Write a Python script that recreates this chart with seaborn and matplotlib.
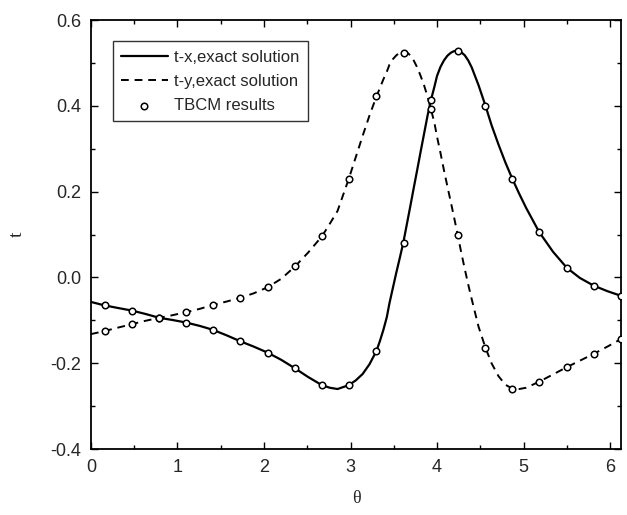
import matplotlib
matplotlib.use("Agg")
import matplotlib.pyplot as plt
from matplotlib.ticker import MultipleLocator
import seaborn as sns
import pandas as pd

# exact solution curves
theta_line = [0.0, 0.157, 0.31, 0.47, 0.63, 0.79, 0.94, 1.10, 1.26, 1.41, 1.57,
              1.73, 1.88, 2.04, 2.20, 2.36, 2.51, 2.67, 2.76, 2.85, 2.98, 3.06,
              3.14, 3.22, 3.30, 3.34, 3.38, 3.42, 3.45, 3.49, 3.53, 3.57, 3.61,
              3.65, 3.69, 3.73, 3.77, 3.81, 3.85, 3.89, 3.93, 3.97, 4.00, 4.04,
              4.08, 4.12, 4.16, 4.20, 4.24, 4.28, 4.32, 4.36, 4.40, 4.48, 4.56,
              4.63, 4.71, 4.79, 4.87, 4.95, 5.03, 5.18, 5.34, 5.50, 5.65, 5.81,
              5.97, 6.13]
tx_line = [-0.057, -0.065, -0.071, -0.077, -0.085, -0.094, -0.099, -0.105, -0.113,
           -0.122, -0.135, -0.149, -0.161, -0.175, -0.192, -0.212, -0.232, -0.251,
           -0.257, -0.260, -0.251, -0.240, -0.225, -0.202, -0.171, -0.148, -0.122,
           -0.092, -0.060, -0.024, 0.012, 0.046, 0.081, 0.123, 0.165, 0.208, 0.250,
           0.293, 0.335, 0.377, 0.414, 0.445, 0.470, 0.491, 0.506, 0.517, 0.524,
           0.528, 0.528, 0.525, 0.518, 0.506, 0.490, 0.448, 0.400, 0.355, 0.310,
           0.268, 0.230, 0.195, 0.162, 0.106, 0.060, 0.0225, -0.001, -0.019, -0.032,
           -0.043]
ty_line = [-0.132, -0.125, -0.117, -0.109, -0.101, -0.094, -0.088, -0.081, -0.073,
           -0.064, -0.056, -0.047, -0.037, -0.023, -0.003, 0.026, 0.058, 0.096,
           0.125, 0.155, 0.230, 0.280, 0.330, 0.378, 0.422, 0.442, 0.462, 0.480,
           0.496, 0.509, 0.518, 0.524, 0.526, 0.525, 0.518, 0.506, 0.490, 0.470,
           0.448, 0.422, 0.392, 0.360, 0.328, 0.290, 0.250, 0.212, 0.175, 0.137,
           0.098, 0.058, 0.020, -0.016, -0.050, -0.115, -0.164, -0.200, -0.230,
           -0.250, -0.259, -0.260, -0.257, -0.243, -0.226, -0.209, -0.194, -0.178,
           -0.161, -0.143]

# TBCM results
theta_pts = [0.157, 0.471, 0.785, 1.100, 1.414, 1.728, 2.042, 2.356, 2.670, 2.985,
             3.299, 3.613, 3.927, 4.241, 4.555, 4.869, 5.184, 5.498, 5.812, 6.126]
tx_pts = [-0.065, -0.077, -0.094, -0.105, -0.122, -0.149, -0.175, -0.212, -0.251,
          -0.251, -0.171, 0.081, 0.414, 0.528, 0.400, 0.230, 0.106, 0.0225, -0.019,
          -0.043]
ty_pts = [-0.125, -0.109, -0.094, -0.081, -0.064, -0.047, -0.023, 0.026, 0.096,
          0.230, 0.422, 0.524, 0.392, 0.098, -0.164, -0.259, -0.243, -0.209, -0.178,
          -0.143]

sns.set_style("ticks")
plt.rcParams["font.family"] = ["Liberation Sans", "DejaVu Sans"]

curves = pd.DataFrame({"theta": theta_line, "tx": tx_line, "ty": ty_line})
pts = pd.DataFrame({"theta": theta_pts * 2, "t": tx_pts + ty_pts})

fig = plt.figure(figsize=(6.27, 5.15), dpi=100)
ax = fig.add_axes([0.145, 0.128, 0.846, 0.833])

sns.lineplot(data=curves, x="theta", y="tx", ax=ax, color="black", lw=1.6,
             label="t-x,exact solution", sort=False)
sns.lineplot(data=curves, x="theta", y="ty", ax=ax, color="black", lw=1.4,
             linestyle=(0, (4, 3)), label="t-y,exact solution", sort=False)
sns.scatterplot(data=pts, x="theta", y="t", ax=ax, marker="o", s=22,
                facecolor="white", edgecolor="black", linewidth=1.1,
                label="TBCM results", zorder=3)

ax.set_xlim(0, 6.13)
ax.set_ylim(-0.4, 0.6)
ax.xaxis.set_major_locator(MultipleLocator(1))
ax.xaxis.set_minor_locator(MultipleLocator(0.5))
ax.yaxis.set_major_locator(MultipleLocator(0.2))
ax.yaxis.set_minor_locator(MultipleLocator(0.1))
ax.yaxis.set_major_formatter(plt.FuncFormatter(lambda v, p: f"{v:.1f}"))
ax.tick_params(which="both", direction="in", top=True, right=True, labelsize=13,
               width=1.0, color="black")
ax.tick_params(which="major", length=5, pad=7)
ax.tick_params(which="minor", length=3)
for sp in ax.spines.values():
    sp.set_color("black")
    sp.set_linewidth(1.3)

ax.set_xlabel("θ", family=["Liberation Serif", "DejaVu Serif"], fontsize=13,
              labelpad=10)
ax.set_ylabel("t", family=["Liberation Serif", "DejaVu Serif"], fontsize=14,
              labelpad=18)

leg = ax.legend(loc="upper left", bbox_to_anchor=(0.025, 0.97), fontsize=12,
                frameon=True, fancybox=False, edgecolor="black",
                handlelength=2.8, handletextpad=0.4, borderpad=0.5,
                labelspacing=0.55)
leg.get_frame().set_linewidth(1.0)

fig.savefig("out.png", dpi=100)
